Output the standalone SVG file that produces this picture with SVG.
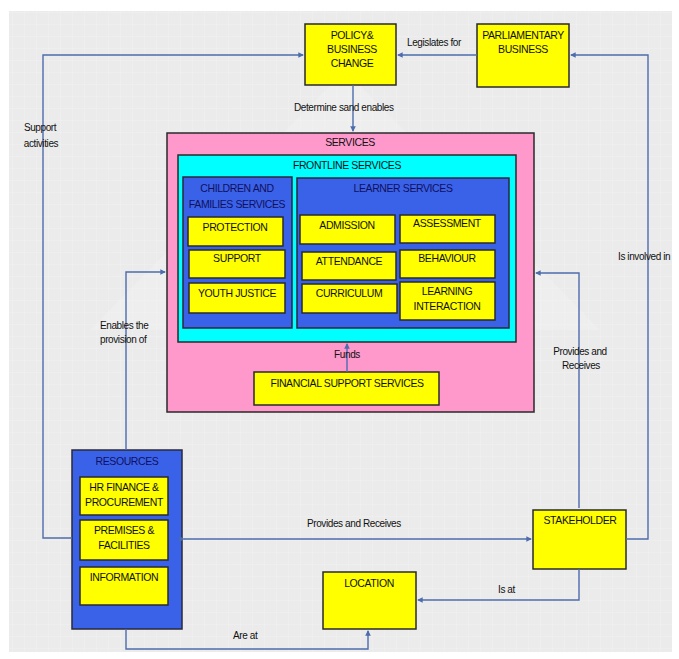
<svg xmlns="http://www.w3.org/2000/svg" width="679" height="659" viewBox="0 0 679 659">
<defs>
<style>
.y{fill:#ffff00;stroke:#2a2a2a;stroke-width:1.5}
.b{fill:#3a62e8;stroke:#2a2a3a;stroke-width:1.5}
.t{font-family:"Liberation Sans",Arial,sans-serif;font-size:10.5px;fill:#111;text-anchor:middle;letter-spacing:-0.4px}
.tb{fill:#101060}
.l{font-family:"Liberation Sans",Arial,sans-serif;font-size:10px;fill:#111;letter-spacing:-0.4px}
.c{fill:none;stroke:#4d6cad;stroke-width:1.4}
</style>
<marker id="m" viewBox="0 0 6 6" refX="5" refY="3" markerWidth="4" markerHeight="4" orient="auto">
<path d="M0,0 L6,3 L0,6 z" fill="#4d6cad"/>
</marker>
<pattern id="grid" width="12" height="12" patternUnits="userSpaceOnUse">
<path d="M12,0 L0,0 0,12" fill="none" stroke="#ffffff" stroke-width="0.8" opacity="0.7"/>
</pattern>
</defs>
<rect x="0" y="0" width="679" height="659" fill="#ffffff"/>
<rect x="9" y="11" width="663" height="641" fill="#ebebeb"/>
<rect x="9" y="11" width="663" height="641" fill="url(#grid)" opacity="0.5"/>
<polygon points="345,70 600,330 500,330 345,170 190,330 90,330" fill="#f2f2f2" opacity="0.5"/>

<g id="policy">
<rect class="y" x="305" y="24" width="91" height="61"/>
<text class="t" x="352" y="39">POLICY&amp;</text>
<text class="t" x="352" y="53">BUSINESS</text>
<text class="t" x="352" y="67">CHANGE</text>
</g>
<g id="parliamentary">
<rect class="y" x="477" y="24" width="92" height="63"/>
<text class="t" x="523" y="39">PARLIAMENTARY</text>
<text class="t" x="523" y="53">BUSINESS</text>
</g>

<g id="services">
<rect x="167" y="133" width="367" height="279" fill="#ff99cc" stroke="#2a2a2a" stroke-width="1.5"/>
<text class="t" x="350" y="146">SERVICES</text>
<g id="frontline">
<rect x="178" y="155" width="338" height="187" fill="#00ffff" stroke="#2a2a2a" stroke-width="1.5"/>
<text class="t" x="347" y="169">FRONTLINE SERVICES</text>
<g id="children">
<rect class="b" x="183" y="177" width="109" height="151"/>
<text class="t tb" x="237" y="192">CHILDREN AND</text>
<text class="t tb" x="237" y="208">FAMILIES SERVICES</text>
<g id="protection"><rect class="y" x="188" y="217" width="95" height="29"/><text class="t" x="235" y="231">PROTECTION</text></g>
<g id="support"><rect class="y" x="189" y="250" width="96" height="28"/><text class="t" x="237" y="262">SUPPORT</text></g>
<g id="youth"><rect class="y" x="189" y="283" width="96" height="30"/><text class="t" x="237" y="297">YOUTH JUSTICE</text></g>
</g>
<g id="learner">
<rect class="b" x="297" y="178" width="212" height="150"/>
<text class="t tb" x="403" y="192">LEARNER SERVICES</text>
<g id="admission"><rect class="y" x="300" y="215" width="95" height="29"/><text class="t" x="347" y="229">ADMISSION</text></g>
<g id="assessment"><rect class="y" x="400" y="215" width="95" height="28"/><text class="t" x="447" y="227">ASSESSMENT</text></g>
<g id="attendance"><rect class="y" x="302" y="252" width="94" height="28"/><text class="t" x="349" y="265">ATTENDANCE</text></g>
<g id="behaviour"><rect class="y" x="400" y="250" width="95" height="28"/><text class="t" x="447" y="262">BEHAVIOUR</text></g>
<g id="curriculum"><rect class="y" x="302" y="284" width="95" height="29"/><text class="t" x="349" y="297">CURRICULUM</text></g>
<g id="learning"><rect class="y" x="400" y="282" width="95" height="38"/><text class="t" x="447" y="295">LEARNING</text><text class="t" x="447" y="310">INTERACTION</text></g>
</g>
</g>
<g id="financial">
<rect class="y" x="254" y="372" width="185" height="33"/>
<text class="t" x="347" y="387">FINANCIAL SUPPORT SERVICES</text>
</g>
</g>

<g id="resources">
<rect class="b" x="72" y="450" width="110" height="179"/>
<text class="t tb" x="127" y="465">RESOURCES</text>
<g id="hr"><rect class="y" x="80" y="477" width="88" height="38"/><text class="t" x="124" y="491">HR FINANCE &amp;</text><text class="t" x="124" y="506">PROCUREMENT</text></g>
<g id="premises"><rect class="y" x="80" y="520" width="88" height="40"/><text class="t" x="124" y="534">PREMISES &amp;</text><text class="t" x="124" y="549">FACILITIES</text></g>
<g id="information"><rect class="y" x="80" y="567" width="88" height="38"/><text class="t" x="124" y="581">INFORMATION</text></g>
</g>

<g id="stakeholder">
<rect class="y" x="533" y="510" width="93" height="59"/>
<text class="t" x="580" y="524">STAKEHOLDER</text>
</g>
<g id="location">
<rect class="y" x="323" y="572" width="93" height="57"/>
<text class="t" x="369" y="587">LOCATION</text>
</g>

<g id="connectors">
<polyline class="c" points="72,538 43,538 43,55 303,55" marker-end="url(#m)"/>
<polyline class="c" points="477,55 398,55" marker-end="url(#m)"/>
<polyline class="c" points="626,539 648,539 648,55 571,55" marker-end="url(#m)"/>
<polyline class="c" points="353,85 353,131" marker-end="url(#m)"/>
<polyline class="c" points="126,450 126,272 165,272" marker-end="url(#m)"/>
<polyline class="c" points="579,508 579,273 536,273" marker-end="url(#m)"/>
<polyline class="c" points="184,539 531,539" marker-end="url(#m)" marker-start="url(#m)"/>
<polyline class="c" points="579,569 579,600 418,600" marker-end="url(#m)"/>
<polyline class="c" points="126,629 126,649 368,649 368,631" marker-end="url(#m)"/>
<polyline class="c" points="347,372 347,344" marker-end="url(#m)"/>
<text class="l" x="407" y="46">Legislates for</text>
<text class="l" x="294" y="111">Determine sand enables</text>
<text class="l" x="40" y="131" text-anchor="middle">Support</text>
<text class="l" x="41" y="147" text-anchor="middle">activities</text>
<text class="l" x="100" y="329">Enables the</text>
<text class="l" x="100" y="343">provision of</text>
<text class="l" x="580" y="355" text-anchor="middle">Provides and</text>
<text class="l" x="581" y="369" text-anchor="middle">Receives</text>
<text class="l" x="618" y="260">Is involved in</text>
<text class="l" x="307" y="527">Provides and Receives</text>
<text class="l" x="498" y="593">Is at</text>
<text class="l" x="233" y="639">Are at</text>
<text class="l" x="347" y="358" text-anchor="middle">Funds</text>
</g>
</svg>
